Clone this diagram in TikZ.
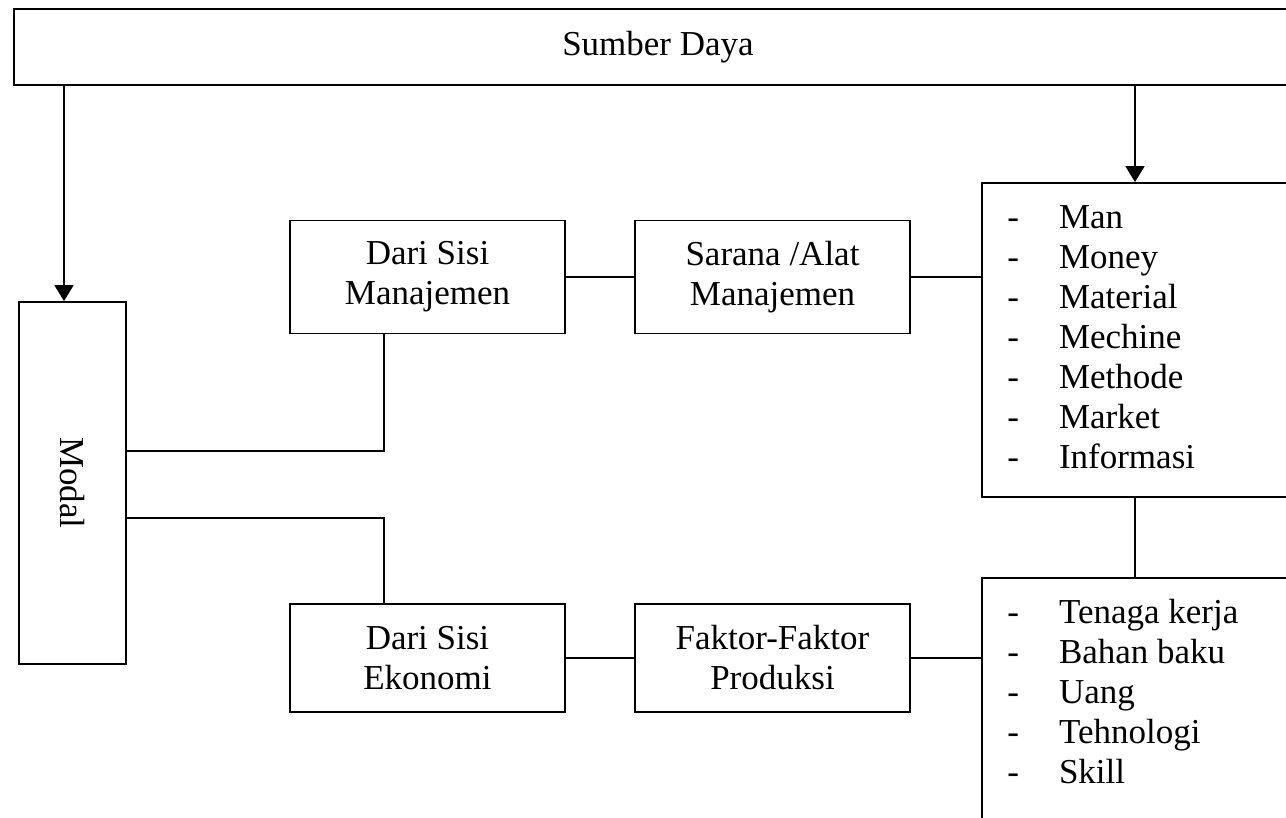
\documentclass[tikz,border=0pt]{standalone}
\usepackage{fontspec}
\setmainfont{Liberation Serif}
\usetikzlibrary{arrows.meta}
\tikzset{
  box/.style={draw, line width=0.9pt, inner sep=0pt, align=center,
    font=\fontsize{17.5}{20}\selectfont},
  listtext/.style={anchor=base west, inner sep=0pt,
    font=\fontsize{17.5}{20}\selectfont},
  conn/.style={line width=0.9pt},
  arr/.style={line width=0.9pt, -{Triangle[length=8pt,width=9.5pt]}}
}
\begin{document}
\begin{tikzpicture}[x=0.5pt, y=-0.5pt]
\useasboundingbox (0,0) rectangle (1286,818);
\fill[white] (0,0) rectangle (1286,818);
\clip (0,0) rectangle (1286,818);

\node[box, minimum width=644pt, minimum height=38pt] (sd) at (658,47) {Sumber Daya};
\node[box, minimum width=53.5pt, minimum height=181pt] (modal) at (72.5,483) {\rotatebox{-90}{Modal}};
\node[box, minimum width=137.5pt, minimum height=56.5pt] (m1) at (427.5,277) {Dari Sisi\\Manajemen};
\node[box, minimum width=137.5pt, minimum height=56.5pt] (m2) at (772.5,277) {Sarana /Alat\\Manajemen};
\node[box, minimum width=137.5pt, minimum height=54pt] (e1) at (427.5,658) {Dari Sisi\\Ekonomi};
\node[box, minimum width=137.5pt, minimum height=54pt] (e2) at (772.5,658) {Faktor-Faktor\\Produksi};
\node[box, minimum width=156pt, minimum height=157pt] (list1) at (1138,340) {};
\node[box, minimum width=156pt, minimum height=126pt] (list2) at (1138,704) {};

\node[listtext] (l1t) at (1007,229) {\begin{tabular}[t]{@{}l@{\hspace{20pt}}l@{}}
- & Man\\ - & Money\\ - & Material\\ - & Mechine\\ - & Methode\\ - & Market\\ - & Informasi
\end{tabular}};
\node[listtext] (l2t) at (1007,623) {\begin{tabular}[t]{@{}l@{\hspace{20pt}}l@{}}
- & Tenaga kerja\\ - & Bahan baku\\ - & Uang\\ - & Tehnologi\\ - & Skill
\end{tabular}};

\coordinate (a1) at (64,85);
\coordinate (a2) at (1135,85);
\coordinate (k1) at (384,451);
\coordinate (k2) at (384,518);

\draw[arr] (sd.south -| a1) -- (modal.north -| a1);
\draw[arr] (sd.south -| a2) -- (list1.north -| a2);
\draw[conn] (k1 -| modal.east) -- (k1) -- (k1 |- m1.south);
\draw[conn] (k2 -| modal.east) -- (k2) -- (k2 |- e1.north);
\draw[conn] (m1.east) -- (m2.west);
\draw[conn] (m2.east) -- (m2.east -| list1.west);
\draw[conn] (e1.east) -- (e2.west);
\draw[conn] (e2.east) -- (e2.east -| list2.west);
\draw[conn] (list1.south -| a2) -- (list2.north -| a2);
\end{tikzpicture}
\end{document}
